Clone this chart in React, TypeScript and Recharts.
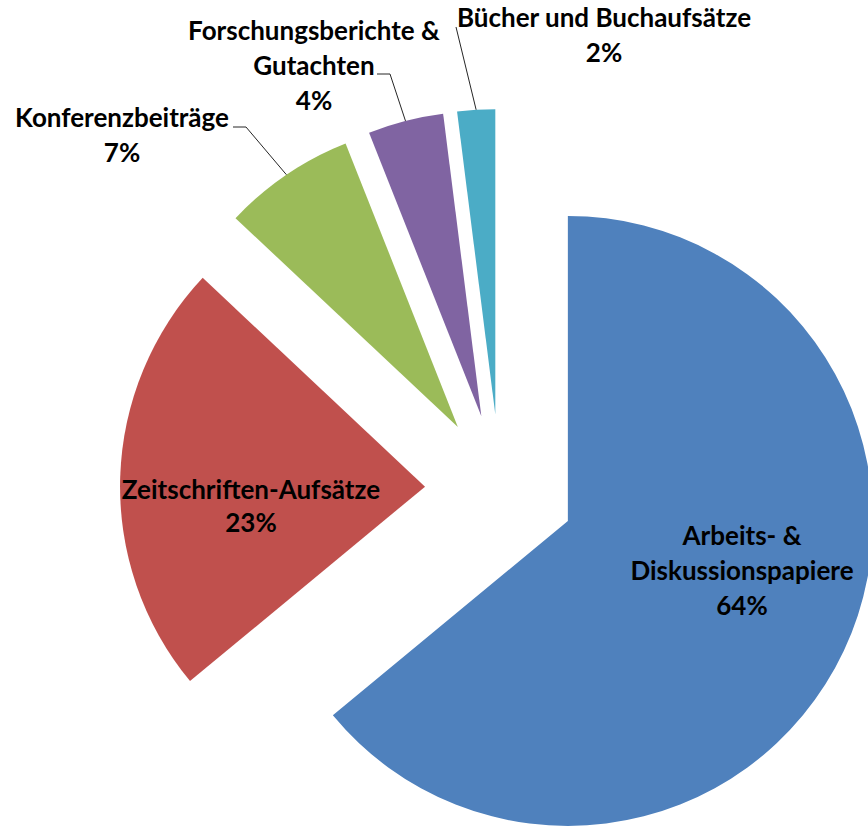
import { PieChart, Pie, Cell } from 'recharts';

const categories = [
  'Arbeits- &\nDiskussionspapiere',
  'Zeitschriften-Aufsätze',
  'Konferenzbeiträge',
  'Forschungsberichte &\nGutachten',
  'Bücher und Buchaufsätze',
];
const shares = [64, 23, 7, 4, 2];
const colors = ['#4F81BD', '#C0504D', '#9BBB59', '#8064A2', '#4BACC6'];

const data = categories.map((name, i) => ({ name, value: shares[i] }));

const CENTER_X = 500;
const CENTER_Y = 489;
const RADIUS = 305;
const EXPLODE = 75;
const RAD = Math.PI / 180;

// where Excel put the labels: first baseline, line step, optional leader (start x, y, elbow x)
const labelLayout: { x: number; y: number; lh: number; leader?: [number, number, number] }[] = [
  { x: 742, y: 545, lh: 35 },
  { x: 251, y: 499, lh: 33 },
  { x: 122, y: 127, lh: 35, leader: [233, 127, 246] },
  { x: 314, y: 40, lh: 35, leader: [377, 74, 390] },
  { x: 604, y: 27, lh: 35, leader: [456, 27, 456] },
];

// each slice gets pushed out along its own mid angle
const total = shares.reduce((a, b) => a + b, 0);
let acc = 0;
const offsets = shares.map((v) => {
  const mid = 90 - (360 * (acc + v / 2)) / total;
  acc += v;
  return { dx: EXPLODE * Math.cos(mid * RAD), dy: -EXPLODE * Math.sin(mid * RAD) };
});

function renderLabel(props: any, slice: number) {
  if (props.index !== slice) return null;
  const { cx, cy, midAngle, outerRadius, percent } = props;
  const layout = labelLayout[slice];
  const lines = [...categories[slice].split('\n'), `${Math.round(percent * 100)}%`];
  let leader = null;
  if (layout.leader) {
    const ex = cx + outerRadius * Math.cos(-midAngle * RAD);
    const ey = cy + outerRadius * Math.sin(-midAngle * RAD);
    const [sx, sy, kx] = layout.leader;
    leader = (
      <polyline
        points={`${sx},${sy} ${kx},${sy} ${ex},${ey}`}
        fill="none"
        stroke="#262626"
        strokeWidth={1}
      />
    );
  }
  return (
    <g key={`label-${slice}`}>
      {leader}
      <text
        x={layout.x}
        y={layout.y}
        textAnchor="middle"
        fontFamily="Lato, 'Open Sans', sans-serif"
        fontWeight={700}
        fontSize={26}
        fill="#000"
      >
        {lines.map((l, k) => (
          <tspan key={k} x={layout.x} dy={k === 0 ? 0 : layout.lh}>
            {l}
          </tspan>
        ))}
      </text>
    </g>
  );
}

export default function App() {
  return (
    <div style={{ width: 868, height: 830, background: '#fff' }}>
      <style>{'body{margin:0}'}</style>
      <PieChart width={868} height={830} margin={{ top: 0, right: 0, bottom: 0, left: 0 }}>
        {offsets.map((o, i) => (
          <Pie
            key={i}
            data={data}
            dataKey="value"
            nameKey="name"
            cx={CENTER_X + o.dx}
            cy={CENTER_Y + o.dy}
            outerRadius={RADIUS}
            startAngle={90}
            endAngle={-270}
            stroke="none"
            isAnimationActive={false}
            labelLine={false}
            label={(p: any) => renderLabel(p, i)}
          >
            {data.map((d, j) => (
              <Cell key={d.name} fill={j === i ? colors[j] : 'transparent'} stroke="none" />
            ))}
          </Pie>
        ))}
      </PieChart>
    </div>
  );
}
